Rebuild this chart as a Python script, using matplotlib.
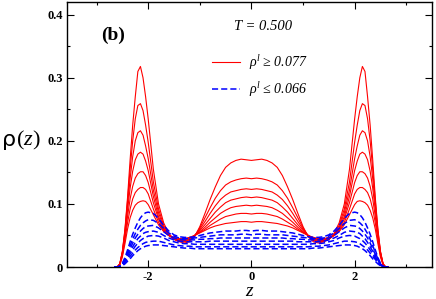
import numpy as np
import matplotlib
matplotlib.use("Agg")
import matplotlib.pyplot as plt
from matplotlib.lines import Line2D

plt.rcParams['font.family'] = 'Liberation Serif'
plt.rcParams['mathtext.fontset'] = 'custom'
plt.rcParams['mathtext.rm'] = 'Liberation Serif'
plt.rcParams['mathtext.it'] = 'Liberation Serif:italic'
plt.rcParams['axes.unicode_minus'] = False

# half profile grid (z <= 0), mirrored for z > 0
z_half = [-2.65, -2.6, -2.55, -2.5, -2.45, -2.4, -2.35, -2.3, -2.25, -2.2,
          -2.15, -2.1, -2.05, -2.0, -1.9, -1.8, -1.7, -1.6, -1.5, -1.4,
          -1.3, -1.2, -1.1, -1.0, -0.9, -0.8, -0.7, -0.6, -0.5, -0.4,
          -0.3, -0.2, -0.1, 0.0]

# red curves, rho_l >= 0.077
red1 = [0, 0, 0.005, 0.025, 0.060, 0.110, 0.170, 0.225, 0.270, 0.310,
        0.318, 0.300, 0.270, 0.235, 0.155, 0.100, 0.070, 0.053, 0.044, 0.040,
        0.038, 0.040, 0.048, 0.064, 0.085, 0.107, 0.127, 0.145, 0.158, 0.165,
        0.169, 0.171, 0.170, 0.169]
red2 = [0, 0, 0.005, 0.024, 0.058, 0.105, 0.155, 0.200, 0.235, 0.256,
        0.259, 0.248, 0.225, 0.198, 0.135, 0.092, 0.066, 0.052, 0.044, 0.041,
        0.040, 0.042, 0.049, 0.062, 0.078, 0.094, 0.109, 0.121, 0.130, 0.135,
        0.138, 0.140, 0.141, 0.140]
red3 = [0, 0, 0.005, 0.023, 0.055, 0.098, 0.140, 0.175, 0.200, 0.213,
        0.216, 0.209, 0.192, 0.172, 0.122, 0.086, 0.063, 0.051, 0.044, 0.041,
        0.041, 0.043, 0.050, 0.060, 0.072, 0.085, 0.097, 0.107, 0.114, 0.119,
        0.121, 0.123, 0.124, 0.123]
red4 = [0, 0, 0.005, 0.022, 0.052, 0.090, 0.125, 0.152, 0.170, 0.179,
        0.182, 0.179, 0.168, 0.153, 0.112, 0.080, 0.061, 0.050, 0.044, 0.042,
        0.042, 0.044, 0.050, 0.058, 0.067, 0.077, 0.087, 0.095, 0.102, 0.106,
        0.108, 0.110, 0.111, 0.110]
red5 = [0, 0, 0.004, 0.020, 0.048, 0.080, 0.108, 0.128, 0.141, 0.148,
        0.151, 0.151, 0.145, 0.134, 0.102, 0.076, 0.059, 0.050, 0.045, 0.043,
        0.043, 0.045, 0.050, 0.056, 0.063, 0.071, 0.078, 0.085, 0.090, 0.094,
        0.096, 0.097, 0.098, 0.097]
red6 = [0, 0, 0.004, 0.018, 0.043, 0.070, 0.092, 0.108, 0.118, 0.123,
        0.126, 0.126, 0.123, 0.116, 0.092, 0.071, 0.057, 0.050, 0.046, 0.044,
        0.044, 0.046, 0.050, 0.055, 0.060, 0.066, 0.071, 0.076, 0.080, 0.082,
        0.084, 0.085, 0.085, 0.084]
red7 = [0, 0, 0.003, 0.016, 0.037, 0.060, 0.078, 0.090, 0.098, 0.102,
        0.104, 0.105, 0.104, 0.099, 0.083, 0.067, 0.056, 0.050, 0.047, 0.045,
        0.045, 0.047, 0.050, 0.054, 0.058, 0.062, 0.065, 0.067, 0.069, 0.070,
        0.071, 0.072, 0.072, 0.071]

# blue curves, rho_l <= 0.066
blue1 = [0, 0, 0.001, 0.006, 0.015, 0.027, 0.040, 0.052, 0.062, 0.071,
         0.078, 0.083, 0.086, 0.087, 0.085, 0.077, 0.066, 0.057, 0.051, 0.048,
         0.047, 0.047, 0.048, 0.050, 0.052, 0.054, 0.055, 0.056, 0.057, 0.057,
         0.057, 0.058, 0.058, 0.057]
blue2 = [0, 0, 0.001, 0.005, 0.013, 0.023, 0.034, 0.044, 0.053, 0.060,
         0.066, 0.070, 0.073, 0.075, 0.074, 0.069, 0.061, 0.054, 0.049, 0.046,
         0.045, 0.045, 0.046, 0.047, 0.048, 0.049, 0.050, 0.051, 0.051, 0.051,
         0.051, 0.052, 0.052, 0.051]
blue3 = [0, 0, 0.001, 0.004, 0.011, 0.020, 0.029, 0.038, 0.046, 0.052,
         0.057, 0.061, 0.064, 0.065, 0.066, 0.062, 0.056, 0.050, 0.046, 0.044,
         0.043, 0.043, 0.043, 0.044, 0.044, 0.045, 0.045, 0.046, 0.046, 0.046,
         0.046, 0.046, 0.046, 0.046]
blue4 = [0, 0, 0.001, 0.004, 0.010, 0.017, 0.025, 0.032, 0.039, 0.045,
         0.049, 0.053, 0.055, 0.056, 0.057, 0.055, 0.050, 0.046, 0.043, 0.041,
         0.040, 0.040, 0.040, 0.040, 0.040, 0.041, 0.041, 0.041, 0.041, 0.041,
         0.041, 0.041, 0.041, 0.041]
blue5 = [0, 0, 0.001, 0.003, 0.008, 0.014, 0.021, 0.027, 0.033, 0.038,
         0.042, 0.045, 0.047, 0.049, 0.050, 0.049, 0.046, 0.042, 0.040, 0.038,
         0.037, 0.037, 0.036, 0.036, 0.036, 0.036, 0.036, 0.036, 0.036, 0.036,
         0.036, 0.036, 0.036, 0.036]
blue6 = [0, 0, 0.001, 0.003, 0.007, 0.012, 0.017, 0.022, 0.027, 0.031,
         0.034, 0.037, 0.039, 0.040, 0.041, 0.041, 0.039, 0.037, 0.035, 0.034,
         0.033, 0.033, 0.032, 0.032, 0.032, 0.032, 0.032, 0.032, 0.032, 0.032,
         0.032, 0.032, 0.032, 0.032]
blue7 = [0, 0, 0.001, 0.002, 0.005, 0.009, 0.013, 0.018, 0.022, 0.026,
         0.029, 0.031, 0.033, 0.034, 0.035, 0.035, 0.034, 0.033, 0.032, 0.031,
         0.030, 0.030, 0.029, 0.029, 0.029, 0.029, 0.029, 0.029, 0.029, 0.029,
         0.029, 0.029, 0.029, 0.029]

red_curves = [red1, red2, red3, red4, red5, red6, red7]
blue_curves = [blue1, blue2, blue3, blue4, blue5, blue6, blue7]

zh = np.array(z_half)
z = np.concatenate([zh, -zh[-2::-1]])

def full(half):
    half = np.array(half)
    return np.concatenate([half, half[-2::-1]])

fig = plt.figure(figsize=(4.36, 2.99), dpi=100)
ax = fig.add_axes([0.154, 0.107, 0.837, 0.886])

for r in red_curves:
    ax.plot(z, full(r), color='#ff0000', lw=0.8)
for b in blue_curves:
    ax.plot(z, full(b), color='#0000ff', lw=1.1, dashes=(4, 2))

ax.set_xlim(-3.57, 3.5)
ax.set_ylim(0, 0.42)
ax.set_xticks([-2, 0, 2])
ax.set_xticks([-3, -1, 1, 3], minor=True)
ax.set_yticks([0, 0.1, 0.2, 0.3, 0.4])
ax.set_yticklabels(['0', '0.1', '0.2', '0.3', '0.4'])
ax.set_yticks([0.05, 0.15, 0.25, 0.35], minor=True)
ax.tick_params(which='both', direction='in', top=True, right=True, width=0.8)
ax.tick_params(which='major', length=5, labelsize=9, pad=3)
ax.tick_params(which='minor', length=2.5)
for lab in ax.get_xticklabels() + ax.get_yticklabels():
    lab.set_fontweight('bold')
for s in ax.spines.values():
    s.set_linewidth(1.0)

ax.text(-0.14, 0.479, 'ρ', transform=ax.transAxes, fontsize=16,
        family='DejaVu Sans', ha='right', va='center')
ax.text(-0.14, 0.479, '($z$)', transform=ax.transAxes, fontsize=16,
        ha='left', va='center')
ax.set_xlabel('$z$', fontsize=14, labelpad=0)

ax.text(0.126, 0.875, '(b)', transform=ax.transAxes, fontsize=14,
        fontweight='bold', ha='center', va='center')
ax.text(0.537, 0.906, 'T = 0.500', transform=ax.transAxes, fontsize=10.5,
        style='italic', ha='center', va='center')

handles = [Line2D([], [], color='#ff0000', lw=0.8),
           Line2D([], [], color='#0000ff', lw=1.1, dashes=(4, 2))]
labels = ['ρ$^{l}$ ≥ 0.077', 'ρ$^{l}$ ≤ 0.066']
ax.legend(handles, labels, loc='upper left', bbox_to_anchor=(0.364, 0.855),
          frameon=False, handlelength=2.0, handletextpad=0.6,
          labelspacing=0.6, prop={'family': 'Liberation Serif',
                                  'style': 'italic', 'size': 10})

fig.savefig('out.png', dpi=100)
